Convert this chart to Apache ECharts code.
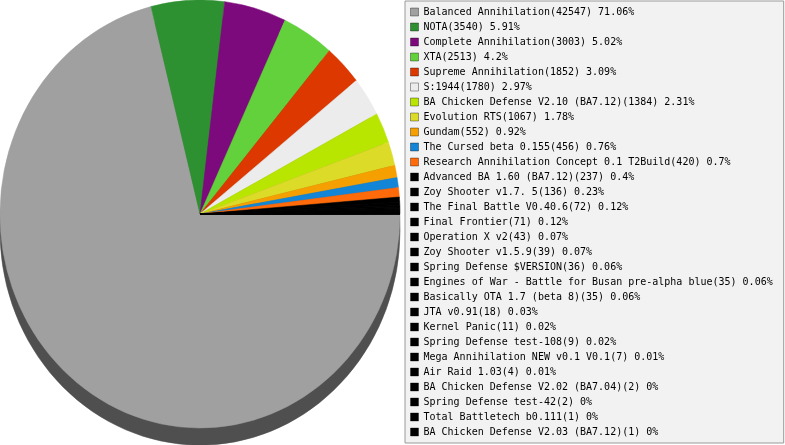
<!DOCTYPE html>
<html>
<head>
<meta charset="utf-8">
<script src="https://cdn.jsdelivr.net/npm/echarts@6/dist/echarts.min.js"></script>
<style>
  html, body { margin: 0; padding: 0; background: #ffffff; }
  #wrap { position: relative; width: 785px; height: 445px; overflow: hidden; }
  #pie { position: absolute; left: 0; top: 0; width: 402px; height: 420px;
         transform: scaleY(1.07); transform-origin: 0 0; }
  #legend { position: absolute; left: 0; top: 0; width: 785px; height: 445px; }
</style>
</head>
<body>
<div id="wrap">
  <div id="pie"></div>
  <div id="legend"></div>
</div>
<script>
const categories = [
  'Balanced Annihilation',
  'NOTA',
  'Complete Annihilation',
  'XTA',
  'Supreme Annihilation',
  'S:1944',
  'BA Chicken Defense V2.10 (BA7.12)',
  'Evolution RTS',
  'Gundam',
  'The Cursed beta 0.155',
  'Research Annihilation Concept 0.1 T2Build',
  'Advanced BA 1.60 (BA7.12)',
  'Zoy Shooter v1.7. 5',
  'The Final Battle V0.40.6',
  'Final Frontier',
  'Operation X v2',
  'Zoy Shooter v1.5.9',
  'Spring Defense $VERSION',
  'Engines of War - Battle for Busan pre-alpha blue',
  'Basically OTA 1.7 (beta 8)',
  'JTA v0.91',
  'Kernel Panic',
  'Spring Defense test-108',
  'Mega Annihilation NEW v0.1 V0.1',
  'Air Raid 1.03',
  'BA Chicken Defense V2.02 (BA7.04)',
  'Spring Defense test-42',
  'Total Battletech b0.111',
  'BA Chicken Defense V2.03 (BA7.12)'
];
const counts = [42547, 3540, 3003, 2513, 1852, 1780, 1384, 1067, 552, 456, 420, 237, 136, 72, 71, 43, 39, 36, 35, 35, 18, 11, 9, 7, 4, 2, 2, 1, 1];
const percents = ['71.06', '5.91', '5.02', '4.2', '3.09', '2.97', '2.31', '1.78', '0.92', '0.76', '0.7', '0.4', '0.23', '0.12', '0.12', '0.07', '0.07', '0.06', '0.06', '0.06', '0.03', '0.02', '0.02', '0.01', '0.01', '0', '0', '0', '0'];
const colors = ['#a0a0a0', '#2e9131', '#7d0a7d', '#62d13c', '#dc3800', '#ececec', '#b9e600', '#dcdc28', '#f5a000', '#1285d6', '#ff6a0a',
  '#000000', '#000000', '#000000', '#000000', '#000000', '#000000', '#000000', '#000000', '#000000', '#000000', '#000000',
  '#000000', '#000000', '#000000', '#000000', '#000000', '#000000', '#000000'];
const shadowColor = '#4f4f4f';

const pieData = categories.map((n, i) => ({ name: n, value: counts[i], itemStyle: { color: colors[i], borderColor: colors[i], borderWidth: 0.5 } }));
const shadowData = categories.map((n, i) => ({ name: n, value: counts[i], itemStyle: { color: shadowColor, borderColor: shadowColor, borderWidth: 0.5 } }));

const commonPie = {
  type: 'pie',
  startAngle: 0,
  clockwise: true,
  radius: [0, 200],
  minAngle: 0,
  label: { show: false },
  labelLine: { show: false },
  silent: true,
  emphasis: { disabled: true },
  avoidLabelOverlap: false
};

const pieChart = echarts.init(document.getElementById('pie'), null, { renderer: 'svg' });
pieChart.setOption({
  animation: false,
  series: [
    Object.assign({}, commonPie, {
      center: [200, 216],
      z: 1,
      data: shadowData
    }),
    Object.assign({}, commonPie, {
      center: [200, 200],
      z: 2,
      data: pieData
    })
  ]
});

const nameIndex = {};
categories.forEach((n, i) => { nameIndex[n] = i; });

const legendChart = echarts.init(document.getElementById('legend'));
legendChart.setOption({
  animation: false,
  legend: {
    orient: 'vertical',
    left: 405,
    top: 1,
    padding: [6, 11, 6, 5],
    itemWidth: 8,
    itemHeight: 8,
    itemGap: 5,
    icon: 'rect',
    selectedMode: false,
    backgroundColor: '#f2f2f2',
    borderColor: '#9a9a9a',
    borderWidth: 1,
    itemStyle: { borderColor: 'rgba(0,0,0,0.35)', borderWidth: 1 },
    textStyle: { fontFamily: 'DejaVu Sans Mono', fontSize: 10, color: '#000000', lineHeight: 10 },
    data: categories,
    formatter: function (name) {
      const i = nameIndex[name];
      return name + '(' + counts[i] + ') ' + percents[i] + '%';
    }
  },
  series: [
    Object.assign({}, commonPie, {
      radius: [0, 0],
      center: [-100, -100],
      data: pieData
    })
  ]
});
</script>
</body>
</html>
